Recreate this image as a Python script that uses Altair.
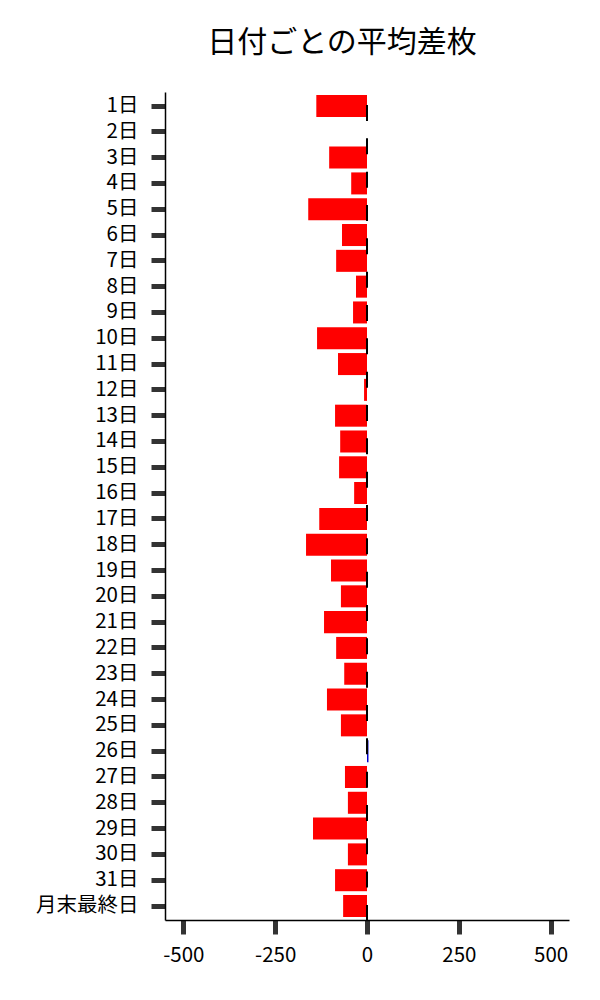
import altair as alt
import pandas as pd

days = [f"{i}日" for i in range(1, 32)] + ["月末最終日"]
values = [-138, 0, -103, -43, -160, -68, -84, -30, -38, -136,
          -79, -8, -87, -73, -76, -35, -130, -166, -98, -71,
          -117, -84, -62, -109, -71, 4, -60, -52, -147, -52,
          -87, -65]
x_ticks = [-500, -250, 0, 250, 500]

df = pd.DataFrame({"day": days, "value": values})
df["sign"] = ["pos" if v > 0 else "neg" for v in values]

FONT = "Noto Sans CJK JP"

bars = alt.Chart(df).mark_bar().encode(
    y=alt.Y("day:N", sort=days, title=None,
            scale=alt.Scale(paddingInner=0.147, paddingOuter=0.116),
            axis=alt.Axis(labelFont=FONT, labelFontSize=20.5, labelColor="black",
                          labelPadding=13, tickSize=14, tickWidth=5, tickColor="#333333",
                          domainColor="black", domainWidth=1.5, grid=False)),
    x=alt.X("value:Q", title=None,
            scale=alt.Scale(domain=[-550, 550], nice=False, zero=False),
            axis=alt.Axis(values=x_ticks, labelFont=FONT,
                          labelExpr="datum.value < 0 ? '-' + format(-datum.value, 'd') : format(datum.value, 'd')",
                          labelFontSize=20.5, labelColor="black", labelPadding=11,
                          tickSize=14, tickWidth=5, tickColor="#333333",
                          domainColor="black", domainWidth=1.5, grid=False,
                          labelFlush=False)),
    color=alt.Color("sign:N", scale=alt.Scale(domain=["neg", "pos"], range=["#ff0000", "#0000cc"]),
                    legend=None),
)

zero = alt.Chart(pd.DataFrame({"x": [0]})).mark_rule(
    color="black", strokeWidth=2, strokeDash=[16, 17.33], strokeDashOffset=20.3
).encode(x="x:Q")

chart = alt.layer(bars, zero).properties(
    width=404, height=828,
    title=alt.TitleParams("日付ごとの平均差枚", font=FONT, fontSize=30, fontWeight="normal",
                          color="black", anchor="middle", dx=-25, offset=33),
    autosize=alt.AutoSizeParams(type="none"),
    padding={"left": 157, "top": 84, "right": 23, "bottom": 72},
).configure_view(stroke=None)

chart.save("out.html", embed_options={"renderer": "svg", "actions": False})
